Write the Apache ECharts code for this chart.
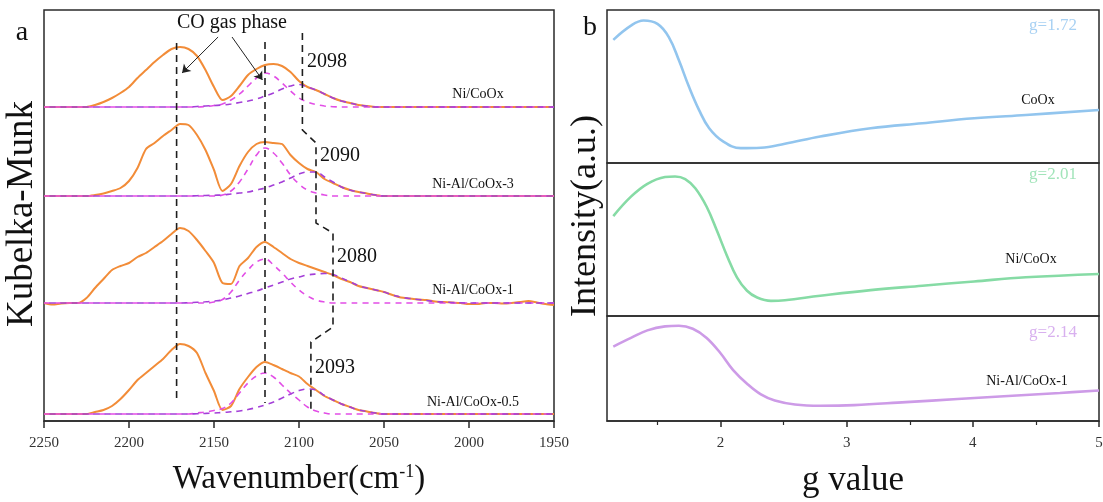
<!DOCTYPE html>
<html>
<head>
<meta charset="utf-8">
<script src="https://cdn.jsdelivr.net/npm/echarts@6/dist/echarts.min.js"></script>
<style>
html, body { margin: 0; padding: 0; background: #fff; }
#chart { width: 1103px; height: 502px; }
</style>
</head>
<body>
<div id="chart"></div>
<script>
// ---- panel a : DRIFTS spectra (heights above each trace's own baseline) ----
var wavenumbers = [2250, 2245, 2240, 2235, 2230, 2225, 2220, 2215, 2210, 2205,
    2200, 2195, 2190, 2185, 2180, 2175, 2170, 2165, 2160, 2155,
    2150, 2145, 2140, 2135, 2130, 2125, 2120, 2115, 2110, 2105,
    2100, 2095, 2090, 2085, 2080, 2075, 2070, 2065, 2060, 2055,
    2050, 2045, 2040, 2035, 2030, 2025, 2020, 2015, 2010, 2005,
    2000, 1995, 1990, 1985, 1980, 1975, 1970, 1965, 1960, 1955, 1950];

var sampleNames = ['Ni/CoOx', 'Ni-Al/CoOx-3', 'Ni-Al/CoOx-1', 'Ni-Al/CoOx-0.5'];
var baselines = [314, 225, 118, 7];

var niCoOxSpec = [0, 0, 0, 0, 0, 0, 2, 5, 9, 14, 20, 29, 37, 45, 52, 58, 60, 58, 51, 37,
    20, 7, 11, 21, 32, 38, 42, 43, 41, 35, 26, 20, 17, 13, 9, 6, 4, 2, 1, 0,
    0, 0, 0, 0, 0, 0, 0, 0, 0, 0, 0, 0, 0, 0, 0, 0, 0, 0, 0, 0, 0];
var niCoOxFit1 = [0, 0, 0, 0, 0, 0, 0, 0, 0, 0, 0, 0, 0, 0, 0, 0, 0, 0, 0, 0.5,
    1.5, 3, 7, 13, 21, 29, 34, 31, 24, 16, 9, 5, 2.5, 1, 0.3, 0, 0, 0, 0, 0,
    0, 0, 0, 0, 0, 0, 0, 0, 0, 0, 0, 0, 0, 0, 0, 0, 0, 0, 0, 0, 0];
var niCoOxFit2 = [0, 0, 0, 0, 0, 0, 0, 0, 0, 0, 0, 0, 0, 0, 0, 0, 0, 0, 0.5, 1,
    1.5, 2, 3, 4.5, 6, 8, 11, 14, 18, 21, 22.5, 20, 17, 13, 9, 6, 4, 2, 1, 0,
    0, 0, 0, 0, 0, 0, 0, 0, 0, 0, 0, 0, 0, 0, 0, 0, 0, 0, 0, 0, 0];

var niAl3Spec = [0, 0, 0, 0, 0, 0, 1, 2.5, 5, 8, 15, 28, 47, 53, 60, 66, 72, 71, 61, 46,
    26, 5, 12, 30, 44, 52, 54, 53, 52, 41, 33, 27, 24, 17, 13, 9, 6, 4, 2.5, 1,
    0, 0, 0, 0, 0, 0, 0, 0, 0, 0, 0, 0, 0, 0, 0, 0, 0, 0, 0, 0, 0];
var niAl3Fit1 = [0, 0, 0, 0, 0, 0, 0, 0, 0, 0, 0, 0, 0, 0, 0, 0, 0, 0, 0, 0,
    0, 1, 5, 14, 27, 41, 48, 43, 33, 21, 12, 6, 3, 1, 0, 0, 0, 0, 0, 0,
    0, 0, 0, 0, 0, 0, 0, 0, 0, 0, 0, 0, 0, 0, 0, 0, 0, 0, 0, 0, 0];
var niAl3Fit2 = [0, 0, 0, 0, 0, 0, 0, 0, 0, 0, 0, 0, 0, 0, 0, 0, 0, 0, 0.3, 0.5,
    0.8, 1, 2, 3, 4, 6, 8, 11, 14, 18, 22, 24, 24, 19, 14, 9, 6, 4, 2.5, 1,
    0, 0, 0, 0, 0, 0, 0, 0, 0, 0, 0, 0, 0, 0, 0, 0, 0, 0, 0, 0, 0];

var niAl1Spec = [0, -1.5, -0.5, 0, 0, 5, 15, 24, 33, 37, 40, 46, 50, 56, 62, 69, 75, 72, 63, 52,
    40, 20, 19, 37, 45, 56, 61, 56, 50, 44, 40, 37, 34, 31, 28, 24, 21, 17, 15, 13,
    11, 8, 5.5, 4.5, 3.5, 3, 1.5, 1, 0.5, 0, -1, -1, 0, 0, -0.5, 0, 1, 2, 0.5, -1, -2];
var niAl1Fit1 = [0, 0, 0, 0, 0, 0, 0, 0, 0, 0, 0, 0, 0, 0, 0, 0, 0, 0, 0, 0,
    1, 3.5, 11, 23, 33, 41, 44, 38, 30, 21, 13, 7, 3, 1, 0, 0, 0, 0, 0, 0,
    0, 0, 0, 0, 0, 0, 0, 0, 0, 0, 0, 0, 0, 0, 0, 0, 0, 0, 0, 0, 0];
var niAl1Fit2 = [0, 0, 0, 0, 0, 0, 0, 0, 0, 0, 0, 0, 0, 0, 0, 0, 0, 0.3, 0.7, 1.2,
    2, 3, 5, 7, 9.5, 12, 15, 18, 21, 24, 26, 28, 29, 29.5, 28.5, 25, 21, 17.5, 15, 13,
    11, 8, 6, 4.5, 3.5, 2.5, 1.5, 1, 0.5, 0.2, 0, 0, 0, 0, 0, 0, 0, 0, 0, 0, 0];

var niAl05Spec = [0, 0, 0, 0, 0, 0, 2, 4, 8, 15, 24, 34, 41, 48, 55, 64, 70, 68, 61, 41,
    23, 4, 8, 25, 37, 47, 52, 49, 45, 41, 37.5, 30, 24, 18, 14, 10, 7, 4, 2.5, 1,
    0, 0, 0, 0, 0, 0, 0, 0, 0, 0, 0, 0, 0, 0, 0, 0, 0, 0, 0, 0, 0];
var niAl05Fit1 = [0, 0, 0, 0, 0, 0, 0, 0, 0, 0, 0, 0, 0, 0, 0, 0, 0, 0, 1, 2,
    3.5, 5.5, 11, 21, 31, 38, 41, 37, 29, 21, 14, 7, 3, 1, 0, 0, 0, 0, 0, 0,
    0, 0, 0, 0, 0, 0, 0, 0, 0, 0, 0, 0, 0, 0, 0, 0, 0, 0, 0, 0, 0];
var niAl05Fit2 = [0, 0, 0, 0, 0, 0, 0, 0, 0, 0, 0, 0, 0, 0, 0, 0, 0, 0, 0.3, 0.6,
    1, 1.5, 2.2, 3, 4.5, 6.5, 9, 12, 16, 20, 23.5, 25, 24, 18.5, 14, 10, 7, 4, 2.5, 1,
    0, 0, 0, 0, 0, 0, 0, 0, 0, 0, 0, 0, 0, 0, 0, 0, 0, 0, 0, 0, 0];

// guide lines: gas-phase bands and the shifting linear-CO band
var gasBands = [2172, 2120];
var shiftPath = [[2098, 388], [2098, 291], [2090, 278], [2090, 198],
    [2080, 188], [2080, 94], [2093, 79], [2093, 11]];
var shiftLabels = ['2098', '2090', '2080', '2093'];

// ---- panel b : g value curves ----
var gCoOx = [1.15, 1.29, 1.39, 1.50, 1.59, 1.67, 1.75, 1.83, 1.91, 2.02, 2.16, 2.32, 2.51, 2.79, 3.19, 3.60, 4.01, 4.42, 5.0];
var iCoOx = [0.805, 0.898, 0.931, 0.909, 0.823, 0.671, 0.498, 0.346, 0.227, 0.141, 0.097, 0.100, 0.126, 0.173, 0.227, 0.260, 0.292, 0.314, 0.346];
var gNiCoOx = [1.15, 1.29, 1.42, 1.56, 1.64, 1.72, 1.80, 1.89, 1.97, 2.05, 2.13, 2.21, 2.29, 2.40, 2.51, 2.79, 3.19, 3.60, 4.01, 4.42, 5.0];
var iNiCoOx = [0.653, 0.780, 0.864, 0.908, 0.912, 0.895, 0.835, 0.714, 0.560, 0.396, 0.253, 0.165, 0.121, 0.099, 0.103, 0.132, 0.169, 0.198, 0.226, 0.253, 0.275];
var gNiAl1 = [1.15, 1.29, 1.42, 1.56, 1.67, 1.78, 1.89, 2.00, 2.10, 2.21, 2.32, 2.43, 2.59, 2.79, 3.06, 3.47, 3.88, 4.28, 4.69, 5.0];
var iNiAl1 = [0.709, 0.791, 0.863, 0.901, 0.907, 0.878, 0.791, 0.645, 0.485, 0.355, 0.253, 0.195, 0.157, 0.145, 0.151, 0.180, 0.209, 0.238, 0.267, 0.291];
var gLabels = ['g=1.72', 'g=2.01', 'g=2.14'];
var epr = [
    {name: 'CoOx', g: gCoOx, v: iCoOx, color: '#92C5EE', light: '#A8D1F3'},
    {name: 'Ni/CoOx', g: gNiCoOx, v: iNiCoOx, color: '#86DBA5', light: '#A2E4BA'},
    {name: 'Ni-Al/CoOx-1', g: gNiAl1, v: iNiAl1, color: '#CD9BE7', light: '#D8B0EF'}
];

var spectra = [
    [niCoOxSpec, niCoOxFit1, niCoOxFit2],
    [niAl3Spec, niAl3Fit1, niAl3Fit2],
    [niAl1Spec, niAl1Fit1, niAl1Fit2],
    [niAl05Spec, niAl05Fit1, niAl05Fit2]
];

var SERIF = '"Liberation Serif", "Times New Roman", serif';
var ORANGE = '#F28C38';
var PINK = '#E24EE6';
var PURPLE = '#A43FD8';

function shifted(h, base) {
    return wavenumbers.map(function (w, i) {
        return [w, base + h[i]];
    });
}

var series = [];
spectra.forEach(function (s, k) {
    series.push({
        type: 'line', xAxisIndex: 0, yAxisIndex: 0, symbol: 'none', smooth: 0.25,
        data: shifted(s[0], baselines[k]),
        lineStyle: {color: ORANGE, width: 2}, z: 2
    });
    series.push({
        type: 'line', xAxisIndex: 0, yAxisIndex: 0, symbol: 'none', smooth: 0.4,
        data: shifted(s[1], baselines[k]),
        lineStyle: {color: PINK, width: 1.6, type: [6, 5]}, z: 3
    });
    series.push({
        type: 'line', xAxisIndex: 0, yAxisIndex: 0, symbol: 'none', smooth: 0.4,
        data: shifted(s[2], baselines[k]),
        lineStyle: {color: PURPLE, width: 1.6, type: [6, 5], dashOffset: 5.5}, z: 3
    });
});

var guideStyle = {color: '#1e1e1e', width: 1.6, type: [7, 5]};
series.push({
    type: 'line', xAxisIndex: 0, yAxisIndex: 0, symbol: 'none',
    data: [[gasBands[0], 378], [gasBands[0], 21]], lineStyle: guideStyle, z: 4,
    markLine: {
        silent: true, symbol: ['none', 'arrow'], symbolSize: 8,
        label: {show: false},
        lineStyle: {color: '#222', width: 1, type: 'solid'},
        data: [
            [{coord: [2147.6, 384]}, {coord: [2168.8, 348]}],
            [{coord: [2139.4, 384]}, {coord: [2121.5, 341]}]
        ]
    }
});
series.push({
    type: 'line', xAxisIndex: 0, yAxisIndex: 0, symbol: 'none',
    data: [[gasBands[1], 379], [gasBands[1], 18]], lineStyle: guideStyle, z: 4
});
series.push({
    type: 'line', xAxisIndex: 0, yAxisIndex: 0, symbol: 'none',
    data: shiftPath, lineStyle: guideStyle, z: 4
});

epr.forEach(function (c, k) {
    series.push({
        type: 'line', xAxisIndex: k + 1, yAxisIndex: k + 1, symbol: 'none', smooth: 0.4,
        data: c.g.map(function (g, i) { return [g, c.v[i]]; }),
        lineStyle: {color: c.color, width: 2.6}
    });
});

function txt(text, x, y, size, color, align) {
    return {
        type: 'text', x: x, y: y, silent: true,
        style: {
            text: text, fill: color || '#111', font: size + 'px ' + SERIF,
            align: align || 'center', verticalAlign: 'middle'
        }
    };
}

var graphics = [
    txt('a', 22, 33, 28),
    txt('b', 590, 28, 28),
    txt('CO gas phase', 232, 23, 20),
    txt(shiftLabels[0], 307, 62, 20, '#111', 'left'),
    txt(shiftLabels[1], 320, 156, 20, '#111', 'left'),
    txt(shiftLabels[2], 337, 257, 20, '#111', 'left'),
    txt(shiftLabels[3], 315, 368, 20, '#111', 'left'),
    txt(sampleNames[0], 478, 94, 14),
    txt(sampleNames[1], 473, 184, 14),
    txt(sampleNames[2], 473, 290, 14),
    txt(sampleNames[3], 473, 402, 14),
    txt(epr[0].name, 1038, 100, 14),
    txt(epr[1].name, 1031, 259, 14),
    txt(epr[2].name, 1027, 381, 14),
    txt(gLabels[0], 1053, 26, 17, epr[0].light),
    txt(gLabels[1], 1053, 175, 17, epr[1].light),
    txt(gLabels[2], 1053, 333, 17, epr[2].light)
];
var ky = txt('Kubelka-Munk', 22, 214, 37);
ky.rotation = Math.PI / 2;
graphics.push(ky);
var iy = txt('Intensity(a.u.)', 586, 216, 36);
iy.rotation = Math.PI / 2;
graphics.push(iy);

var frame = {
    show: true, borderColor: '#2a2a2a', borderWidth: 1.5, backgroundColor: 'transparent',
    outerBoundsMode: 'none', containLabel: false
};
function hiddenX(grid) {
    return {gridIndex: grid, type: 'value', min: 1.1, max: 5, show: false, splitLine: {show: false}};
}
function hiddenY(grid, max) {
    return {gridIndex: grid, type: 'value', min: 0, max: max, show: false, splitLine: {show: false}};
}

var option = {
    animation: false,
    backgroundColor: '#fff',
    grid: [
        Object.assign({left: 44, right: 549, top: 10, bottom: 81}, frame),
        Object.assign({left: 607, right: 4, top: 10, height: 153}, frame),
        Object.assign({left: 607, right: 4, top: 163, height: 153}, frame),
        Object.assign({left: 607, right: 4, top: 316, height: 105}, frame)
    ],
    xAxis: [
        {
            gridIndex: 0, type: 'value', inverse: true, min: 1950, max: 2250, interval: 50,
            axisLine: {show: true, lineStyle: {color: '#2a2a2a', width: 1.5}},
            axisTick: {show: true, inside: false, length: 7, lineStyle: {color: '#2a2a2a', width: 1.5}},
            axisLabel: {
                color: '#333', fontFamily: SERIF, fontSize: 15, margin: 15,
                formatter: function (v) { return String(v); }
            },
            splitLine: {show: false},
            name: '{a|Wavenumber(cm}{s|-1}{a|)}',
            nameLocation: 'middle', nameGap: 42,
            nameTextStyle: {
                rich: {
                    a: {fontFamily: SERIF, fontSize: 33, color: '#111'},
                    s: {fontFamily: SERIF, fontSize: 18, color: '#111', padding: [0, 0, 14, 0]}
                }
            }
        },
        hiddenX(1),
        hiddenX(2),
        {
            gridIndex: 3, type: 'value', min: 1.1, max: 5, position: 'bottom',
            axisLine: {show: true, lineStyle: {color: '#2a2a2a', width: 1.5}},
            axisTick: {show: true, inside: false, length: 6, customValues: [2, 3, 4, 5],
                lineStyle: {color: '#2a2a2a', width: 1.5}},
            axisLabel: {color: '#333', fontFamily: SERIF, fontSize: 15, margin: 15, customValues: [2, 3, 4, 5]},
            splitLine: {show: false},
            name: 'g value', nameLocation: 'middle', nameGap: 42,
            nameTextStyle: {fontFamily: SERIF, fontSize: 35, color: '#111'}
        },
        {
            gridIndex: 3, type: 'value', min: 1.1, max: 5, position: 'bottom',
            axisLine: {show: false},
            axisTick: {show: true, inside: false, length: 4, customValues: [1.5, 2.5, 3.5, 4.5],
                lineStyle: {color: '#2a2a2a', width: 1.2}},
            axisLabel: {show: false},
            splitLine: {show: false}
        }
    ],
    yAxis: [
        hiddenY(0, 411),
        hiddenY(1, 1),
        hiddenY(2, 1),
        hiddenY(3, 1)
    ],
    graphic: graphics,
    series: series
};

var chart = echarts.init(document.getElementById('chart'), null, {renderer: 'canvas'});
chart.setOption(option);
</script>
</body>
</html>
